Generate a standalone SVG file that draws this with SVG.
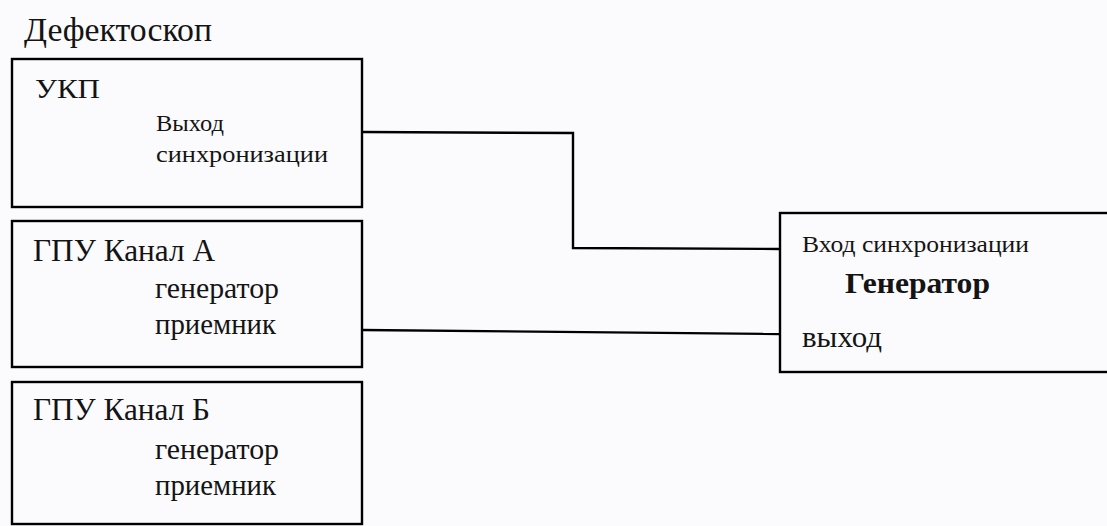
<svg xmlns="http://www.w3.org/2000/svg" width="1107" height="526" viewBox="0 0 1107 526">
<style>
.box{fill:none;stroke:#000;stroke-width:2.4}
.wire{fill:none;stroke:#000;stroke-width:2.4}
.t{font-family:"Liberation Serif","Times New Roman",serif;fill:#141414}
</style>
<rect width="1107" height="526" fill="#fbfbfd"/>
<text x="24" y="41" class="t" font-size="33" textLength="188" lengthAdjust="spacingAndGlyphs">Дефектоскоп</text>
<g id="ukp">
<rect class="box" x="12" y="59" width="350" height="148"/>
<text x="35" y="98" class="t" font-size="28" textLength="65" lengthAdjust="spacingAndGlyphs">УКП</text>
<text x="156" y="131" class="t" font-size="23" textLength="68" lengthAdjust="spacingAndGlyphs">Выход</text>
<text x="156" y="162" class="t" font-size="23" textLength="172" lengthAdjust="spacingAndGlyphs">синхронизации</text>
</g>
<g id="gpu-a">
<rect class="box" x="12" y="221" width="350" height="146"/>
<text x="33" y="261" class="t" font-size="31" textLength="182" lengthAdjust="spacingAndGlyphs">ГПУ Канал А</text>
<text x="155" y="298" class="t" font-size="30" textLength="124" lengthAdjust="spacingAndGlyphs">генератор</text>
<text x="155" y="334" class="t" font-size="30" textLength="121" lengthAdjust="spacingAndGlyphs">приемник</text>
</g>
<g id="gpu-b">
<rect class="box" x="12" y="382" width="350" height="142"/>
<text x="33" y="420" class="t" font-size="31" textLength="177" lengthAdjust="spacingAndGlyphs">ГПУ Канал Б</text>
<text x="155" y="459" class="t" font-size="30" textLength="124" lengthAdjust="spacingAndGlyphs">генератор</text>
<text x="155" y="495" class="t" font-size="30" textLength="121" lengthAdjust="spacingAndGlyphs">приемник</text>
</g>
<g id="generator">
<rect class="box" x="780" y="213" width="340" height="159"/>
<text x="802" y="252" class="t" font-size="23" textLength="227" lengthAdjust="spacingAndGlyphs">Вход синхронизации</text>
<text x="845" y="293" class="t" font-size="29" font-weight="bold" textLength="145" lengthAdjust="spacingAndGlyphs">Генератор</text>
<text x="802" y="347" class="t" font-size="29" textLength="80" lengthAdjust="spacingAndGlyphs">выход</text>
</g>
<g id="connectors">
<polyline class="wire" points="362,132 573,133 573,248 780,249"/>
<polyline class="wire" points="362,330 780,334"/>
</g>
</svg>
